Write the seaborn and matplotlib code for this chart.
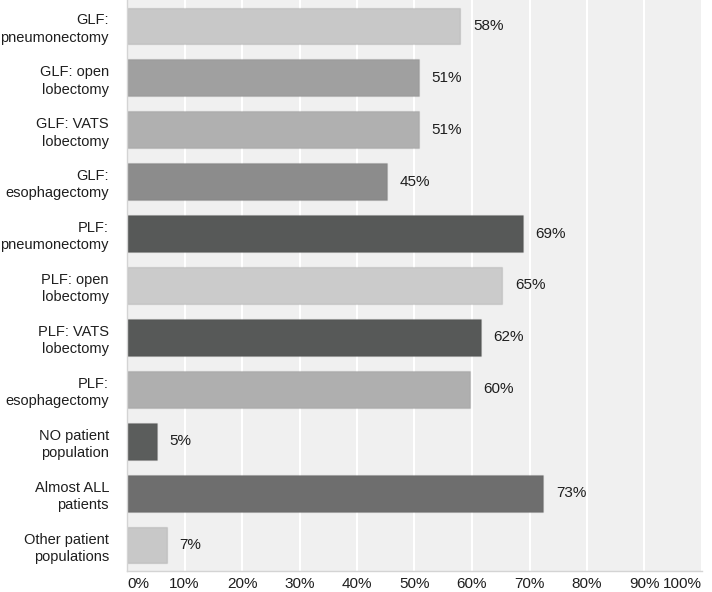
import pandas as pd
import matplotlib.pyplot as plt
import seaborn as sns

# categorias (eixo y), de cima pra baixo
categorias = ["GLF:\npneumonectomy", "GLF: open\nlobectomy", "GLF: VATS\nlobectomy",
              "GLF:\nesophagectomy", "PLF:\npneumonectomy", "PLF: open\nlobectomy",
              "PLF: VATS\nlobectomy", "PLF:\nesophagectomy", "NO patient\npopulation",
              "Almost ALL\npatients", "Other patient\npopulations"]
valores = [58, 50.7, 50.7, 45.3, 68.8, 65.3, 61.5, 59.7, 5.2, 72.4, 7.0]
rotulos = ["58%", "51%", "51%", "45%", "69%", "65%", "62%", "60%", "5%", "73%", "7%"]
cores = ["#c8c8c8", "#a0a0a0", "#b0b0b0", "#8c8c8c", "#575958", "#cbcbcb",
         "#575958", "#afafaf", "#5b5d5c", "#6e6e6e", "#c8c8c8"]
ticks_x = [0, 10, 20, 30, 40, 50, 60, 70, 80, 90, 100]

df = pd.DataFrame({"categoria": categorias, "valor": valores})

sns.set_theme(style="whitegrid")
plt.rcParams["font.family"] = ["Liberation Sans", "DejaVu Sans"]

fig = plt.figure(figsize=(7.12, 5.92), dpi=100)
ax = fig.add_axes([127 / 712, 21 / 592, 575 / 712, 571 / 592])
ax.set_facecolor("#f0f0f0")

sns.barplot(data=df, x="valor", y="categoria", hue="categoria", palette=cores,
            legend=False, orient="h", width=0.71, edgecolor=(0, 0, 0, 0.08),
            linewidth=1, ax=ax)

# texto ao lado de cada barra
for i, (v, r) in enumerate(zip(valores, rotulos)):
    ax.annotate(r, (v, i), xytext=(9, 0), textcoords="offset points",
                va="center", ha="left", fontsize=11, color="#1e1e1e")

ax.set_xlim(0, 100)
ax.set_ylim(len(categorias) - 0.5, -0.5)
ax.set_xticks(ticks_x)
ax.set_xticklabels([f"{t}%" for t in ticks_x])
lbls = ax.get_xticklabels()
lbls[0].set_ha("left")
lbls[-1].set_ha("right")
ax.grid(axis="x", color="white", linewidth=1.5)
ax.grid(axis="y", visible=False)
ax.set_axisbelow(True)
ax.set_xlabel("")
ax.set_ylabel("")
ax.tick_params(axis="x", length=0, pad=4, labelsize=11, labelcolor="#1e1e1e")
ax.tick_params(axis="y", length=0, pad=13, labelsize=10.5, labelcolor="#1e1e1e")
for t in ax.get_yticklabels():
    t.set_multialignment("right")
    t.set_linespacing(1.3)

for s in ["top", "right"]:
    ax.spines[s].set_visible(False)
for s in ["left", "bottom"]:
    ax.spines[s].set_color("#d4d4d4")
    ax.spines[s].set_linewidth(1)

fig.savefig("out.png", dpi=100, facecolor="white")
